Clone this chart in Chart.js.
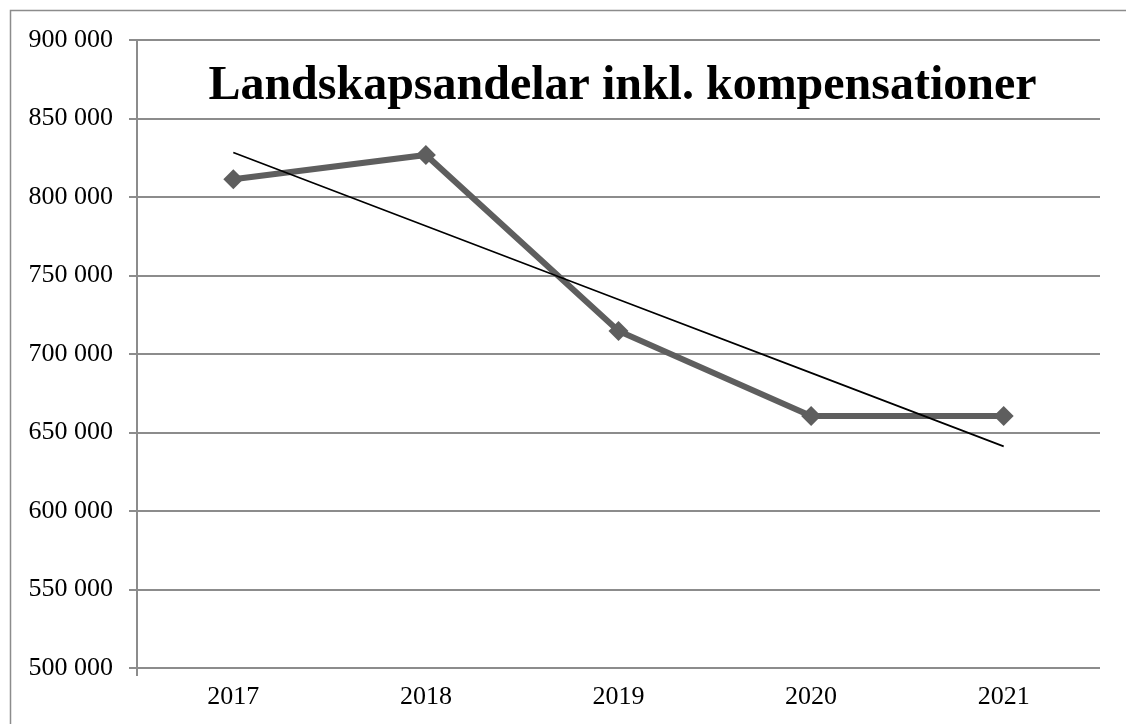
<!DOCTYPE html>
<html lang="sv">
<head>
<meta charset="utf-8">
<title>Landskapsandelar inkl. kompensationer</title>
<script src="https://cdn.jsdelivr.net/npm/chart.js@4/dist/chart.umd.min.js"></script>
<style>
    html, body { margin: 0; padding: 0; background: #fff; overflow: hidden; }
    #wrap { width: 1126px; height: 724px; position: relative; }
    canvas { display: block; }
</style>
</head>
<body>
<div id="wrap"><canvas id="andelarChart" width="1126" height="724"></canvas></div>
<script>
const years = ['2017', '2018', '2019', '2020', '2021'];
const andelar = [811300, 826800, 714700, 660500, 660500];
const yMin = 500000;
const yMax = 900000;
const yStep = 50000;
const chartTitle = 'Landskapsandelar inkl. kompensationer';

// linjär trend (minsta kvadrat) över åren
const n = andelar.length;
const meanX = (n - 1) / 2;
const meanY = andelar.reduce((s, v) => s + v, 0) / n;
let sxy = 0, sxx = 0;
andelar.forEach((v, i) => {
    sxy += (i - meanX) * (v - meanY);
    sxx += (i - meanX) * (i - meanX);
});
const slope = sxy / sxx;
const trend = andelar.map((v, i) => meanY + slope * (i - meanX));

const fmt = v => String(v).replace(/\B(?=(\d{3})+(?!\d))/g, ' ');
const gridColor = '#8c8c8c';
const serif = '"Liberation Serif", "Times New Roman", serif';

// ram runt diagrammet + titel inne i ritytan
const framePlugin = {
    id: 'frame',
    beforeDraw(chart) {
        const ctx = chart.ctx;
        ctx.save();
        ctx.strokeStyle = '#8c8c8c';
        ctx.lineWidth = 1.5;
        ctx.beginPath();
        ctx.moveTo(10.5, chart.height + 5);
        ctx.lineTo(10.5, 10.5);
        ctx.lineTo(chart.width + 5, 10.5);
        ctx.stroke();
        ctx.restore();
    },
    afterDraw(chart) {
        const ctx = chart.ctx;
        const area = chart.chartArea;
        ctx.save();
        ctx.fillStyle = '#000';
        ctx.font = 'bold 48px ' + serif;
        ctx.textAlign = 'center';
        ctx.textBaseline = 'alphabetic';
        ctx.fillText(chartTitle, (area.left + area.right) / 2 + 4, 99);
        ctx.restore();
    }
};

const ctx = document.getElementById('andelarChart').getContext('2d');
new Chart(ctx, {
    type: 'line',
    data: {
        labels: years,
        datasets: [
            {
                label: 'Linjär trend',
                data: trend,
                borderColor: '#000',
                borderWidth: 1.7,
                pointRadius: 0,
                tension: 0,
                order: 0
            },
            {
                label: 'Landskapsandelar',
                data: andelar,
                borderColor: '#5e5e5e',
                backgroundColor: '#5e5e5e',
                borderWidth: 6,
                pointStyle: 'rectRot',
                pointRadius: 10,
                pointHoverRadius: 10,
                pointBorderWidth: 0,
                tension: 0,
                order: 1
            }
        ]
    },
    options: {
        responsive: false,
        animation: false,
        layout: { padding: { top: 40, right: 26, left: 0, bottom: 0 } },
        plugins: {
            legend: { display: false },
            title: { display: false },
            tooltip: { enabled: false }
        },
        scales: {
            x: {
                offset: true,
                border: { display: false },
                grid: {
                    offset: true,
                    drawOnChartArea: false,
                    tickLength: 8,
                    lineWidth: 2,
                    color: c => (c.index === 0 ? gridColor : 'rgba(0,0,0,0)')
                },
                ticks: {
                    color: '#000',
                    padding: 6,
                    font: { family: serif, size: 26 }
                },
                afterFit(scale) { scale.height = 56; }
            },
            y: {
                min: yMin,
                max: yMax,
                border: { display: true, color: gridColor, width: 2 },
                grid: {
                    color: gridColor,
                    lineWidth: 2,
                    tickLength: 8
                },
                ticks: {
                    stepSize: yStep,
                    color: '#000',
                    padding: 16,
                    font: { family: serif, size: 26 },
                    callback: v => fmt(v)
                },
                afterFit(scale) { scale.width = 137; }
            }
        }
    },
    plugins: [framePlugin]
});
</script>
</body>
</html>
